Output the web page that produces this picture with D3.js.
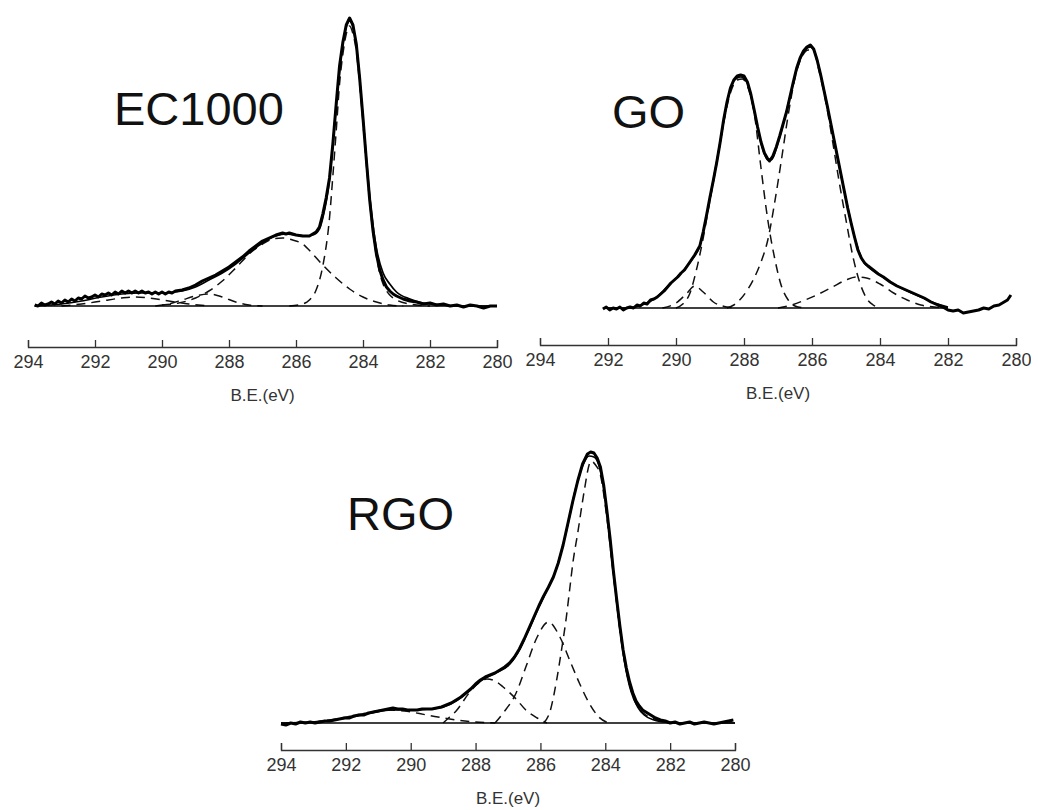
<!DOCTYPE html>
<html>
<head>
<meta charset="utf-8">
<script src="https://cdn.jsdelivr.net/npm/d3@7"></script>
<style>
  body { margin: 0; background: #fff; }
  svg { display: block; }
  .tick text { font-family: "Liberation Sans", Arial, sans-serif; }
</style>
</head>
<body>
<div id="chart"></div>
<script>
// binding energy ticks (eV), shared by all three panels
const ticks = [294, 292, 290, 288, 286, 284, 282, 280];

// ---- EC1000 : [B.E., intensity a.u.] ----
const ec1000Data = [[293.8,1],[293.7,0],[293.6,3],[293.5,1],[293.4,2],[293.3,4],[293.2,2],[293.1,5],[293.0,3],[292.9,6],[292.8,4],[292.7,7],[292.6,5],[292.5,8],[292.4,7],[292.3,10],[292.2,8],[292.1,9],[292.0,11],[291.9,9],[291.8,12],[291.7,11],[291.6,13],[291.5,11],[291.4,14],[291.3,12],[291.2,15],[291.1,13],[291.0,15],[290.9,13],[290.8,15],[290.7,13],[290.6,15],[290.5,13],[290.4,14],[290.3,12],[290.2,14],[290.1,12],[290.0,14],[289.9,12],[289.8,14],[289.7,13],[289.6,15],[289.4,16],[289.2,18],[289.0,21],[288.8,25],[288.6,28],[288.4,31],[288.2,35],[288.0,39],[287.8,44],[287.6,49],[287.4,55],[287.2,60],[287.0,65],[286.8,68],[286.6,71],[286.4,73],[286.3,72],[286.2,73],[286.0,71],[285.8,70],[285.6,70],[285.5,72],[285.4,74],[285.3,79],[285.2,92],[285.1,108],[285.0,128],[284.9,162],[284.8,202],[284.7,240],[284.6,264],[284.5,281],[284.4,288],[284.3,281],[284.2,262],[284.1,228],[284.0,188],[283.9,146],[283.8,106],[283.7,75],[283.6,52],[283.5,36],[283.4,26],[283.3,19],[283.2,15],[283.1,12],[283.0,10],[282.8,7],[282.6,5],[282.4,4],[282.2,2],[282.0,3],[281.8,1],[281.6,2],[281.4,0],[281.2,1],[281.0,-1],[280.8,1],[280.6,0],[280.4,-2],[280.2,0],[280.0,0]];
const ec1000Fit = [[293.8,0],[293.0,2],[292.4,5],[291.8,9],[291.2,12],[290.6,13],[290.0,13],[289.4,15],[289.0,19],[288.6,26],[288.2,33],[287.8,42],[287.4,53],[287.0,63],[286.6,70],[286.3,72],[286.0,71],[285.7,70],[285.5,71],[285.3,77],[285.2,88],[285.0,126],[284.8,200],[284.6,262],[284.4,285],[284.2,260],[284.0,188],[283.8,110],[283.6,58],[283.4,33],[283.2,22],[283.0,14],[282.6,7],[282.2,3],[281.6,1],[281.0,0],[280.0,0]];
const ec1000Peaks = [
  [[286.2,0],[285.8,2],[285.6,6],[285.4,16],[285.2,40],[285.0,88],[284.9,130],[284.8,175],[284.7,222],[284.6,252],[284.5,272],[284.4,280],[284.3,272],[284.2,255],[284.1,222],[284.0,183],[283.9,142],[283.8,104],[283.7,73],[283.6,50],[283.5,33],[283.4,22],[283.2,11],[283.0,6],[282.6,2],[282.0,0]],
  [[290.0,1],[289.5,3],[289.0,8],[288.6,15],[288.2,25],[287.8,38],[287.4,52],[287.0,62],[286.7,67],[286.4,68],[286.1,66],[285.8,62],[285.5,52],[285.2,41],[284.8,28],[284.4,17],[284.0,9],[283.6,4],[283.2,1],[282.8,0]],
  [[293.0,0],[292.4,2],[291.8,5],[291.2,8],[290.8,9],[290.4,8],[289.8,5],[289.2,2],[288.6,0]],
  [[290.2,0],[289.8,2],[289.4,6],[289.0,10],[288.6,12],[288.2,9],[287.8,4],[287.4,1],[287.0,0]]
];
const ec1000Base = [[293.8,0],[280.0,0]];

// ---- GO ----
const goData = [[292.15,-1],[292.05,1],[291.95,-2],[291.85,0],[291.75,-1],[291.65,1],[291.55,-2],[291.45,0],[291.35,1],[291.25,0],[291.15,3],[291.05,2],[290.95,5],[290.85,4],[290.75,8],[290.65,9],[290.55,11],[290.45,14],[290.35,17],[290.25,21],[290.15,25],[290.05,28],[289.95,31],[289.85,35],[289.75,38],[289.65,43],[289.55,48],[289.45,53],[289.35,59],[289.3,62],[289.2,76],[289.1,93],[289.0,111],[288.9,128],[288.8,146],[288.7,166],[288.6,188],[288.5,206],[288.4,220],[288.3,228],[288.2,232],[288.1,233],[288.0,232],[287.9,226],[287.8,214],[287.7,198],[287.6,181],[287.5,166],[287.4,155],[287.3,149],[287.25,147],[287.15,152],[287.05,161],[286.95,172],[286.85,184],[286.75,196],[286.65,211],[286.55,226],[286.45,240],[286.35,250],[286.25,257],[286.15,261],[286.05,263],[285.95,259],[285.85,248],[285.75,234],[285.65,218],[285.55,202],[285.45,185],[285.35,168],[285.25,151],[285.15,134],[285.05,117],[284.95,100],[284.85,85],[284.75,71],[284.65,58],[284.55,50],[284.45,45],[284.35,42],[284.2,38],[284.05,34],[283.9,31],[283.7,26],[283.5,22],[283.3,19],[283.1,16],[282.9,13],[282.7,10],[282.5,6],[282.3,3],[282.15,1],[282.0,-2],[281.85,-3],[281.7,-2],[281.55,-5],[281.4,-4],[281.25,-3],[281.1,-2],[280.95,0],[280.8,-1],[280.65,2],[280.5,3],[280.35,6],[280.25,8],[280.15,13]];
const goFit = [[292.1,0],[291.4,0],[291.0,3],[290.6,10],[290.2,23],[289.8,37],[289.5,50],[289.3,62],[289.1,92],[288.9,128],[288.7,166],[288.5,205],[288.3,227],[288.1,231],[287.9,225],[287.7,197],[287.5,165],[287.3,148],[287.2,148],[287.0,165],[286.8,190],[286.6,218],[286.4,244],[286.2,258],[286.05,261],[285.9,254],[285.7,226],[285.5,193],[285.3,159],[285.1,125],[284.9,93],[284.7,65],[284.5,47],[284.3,40],[284.0,33],[283.6,24],[283.2,17],[282.8,11],[282.4,5],[282.0,1]];
const goPeaks = [
  [[290.0,0],[289.8,4],[289.6,14],[289.4,38],[289.2,70],[289.0,108],[288.8,145],[288.6,185],[288.4,215],[288.2,228],[288.05,229],[287.9,222],[287.7,195],[287.5,140],[287.3,88],[287.1,50],[286.9,22],[286.7,8],[286.5,2],[286.2,0]],
  [[288.5,0],[288.3,3],[288.1,9],[287.9,18],[287.7,30],[287.5,46],[287.3,68],[287.1,105],[286.9,148],[286.7,193],[286.5,230],[286.3,251],[286.1,258],[285.95,257],[285.8,238],[285.6,207],[285.4,168],[285.2,126],[285.0,88],[284.8,52],[284.6,26],[284.4,10],[284.2,3],[284.0,0]],
  [[290.4,0],[290.0,5],[289.7,14],[289.45,22],[289.2,16],[288.9,6],[288.5,1],[288.2,0]],
  [[287.0,0],[286.6,3],[286.2,8],[285.8,14],[285.4,21],[285.0,28],[284.7,31],[284.4,30],[284.0,24],[283.6,15],[283.2,8],[282.8,3],[282.4,1],[282.0,0]]
];
const goBase = [[292.15,0],[282.0,0]];

// ---- RGO ----
const rgoData = [[294.0,-1],[293.85,-2],[293.7,0],[293.55,-1],[293.4,1],[293.25,0],[293.1,1],[292.95,0],[292.8,1],[292.65,2],[292.5,2],[292.35,3],[292.2,4],[292.05,5],[291.9,5],[291.75,7],[291.6,8],[291.45,8],[291.3,10],[291.15,11],[291.0,12],[290.85,13],[290.7,14],[290.55,15],[290.4,14],[290.25,14],[290.1,13],[289.95,13],[289.8,13],[289.65,14],[289.5,14],[289.35,14],[289.2,15],[289.05,16],[288.9,18],[288.75,20],[288.6,23],[288.45,26],[288.3,30],[288.15,34],[288.0,39],[287.85,43],[287.7,46],[287.55,48],[287.4,50],[287.25,53],[287.1,56],[286.95,60],[286.8,66],[286.65,74],[286.5,84],[286.35,95],[286.2,106],[286.05,117],[285.9,127],[285.75,136],[285.6,146],[285.45,160],[285.3,178],[285.15,200],[285.0,222],[284.85,242],[284.7,259],[284.55,269],[284.45,271],[284.35,270],[284.25,265],[284.15,256],[284.05,238],[283.95,212],[283.85,184],[283.75,152],[283.65,124],[283.55,97],[283.45,73],[283.35,55],[283.25,41],[283.15,30],[283.05,22],[282.95,17],[282.85,13],[282.75,11],[282.6,8],[282.45,5],[282.3,3],[282.15,2],[282.0,0],[281.85,1],[281.7,-1],[281.55,0],[281.4,1],[281.25,-1],[281.1,0],[280.95,1],[280.8,0],[280.65,-1],[280.5,0],[280.35,1],[280.2,2],[280.05,3]];
const rgoFit = [[294.0,0],[293.0,1],[292.4,3],[291.8,6],[291.2,10],[290.6,13],[290.0,13],[289.4,14],[289.0,16],[288.6,22],[288.2,32],[287.8,43],[287.4,50],[287.0,57],[286.7,70],[286.4,90],[286.1,112],[285.8,133],[285.5,155],[285.2,192],[284.9,236],[284.7,257],[284.5,267],[284.35,266],[284.2,258],[284.0,225],[283.8,165],[283.6,108],[283.4,60],[283.2,31],[283.0,16],[282.8,8],[282.5,3],[282.2,1],[281.8,0],[280.0,0]];
const rgoPeaks = [
  [[285.9,0],[285.7,12],[285.5,43],[285.35,73],[285.2,106],[285.1,133],[285.0,160],[284.85,190],[284.65,232],[284.5,258],[284.45,262],[284.3,258],[284.15,248],[283.95,205],[283.75,148],[283.45,70],[283.15,27],[282.75,8],[282.2,2],[281.8,0]],
  [[287.4,0],[287.15,10],[286.75,30],[286.45,56],[286.1,86],[285.75,101],[285.4,86],[285.1,63],[284.8,40],[284.5,20],[284.2,6],[283.9,0]],
  [[289.0,0],[288.8,6],[288.6,12],[288.2,30],[287.9,40],[287.65,44],[287.4,42],[287.15,36],[286.75,24],[286.45,13],[286.1,5],[285.8,0]],
  [[293.5,0],[292.5,3],[291.5,9],[290.8,13],[290.2,12],[289.5,8],[288.8,4],[288.0,1],[287.4,0]]
];
const rgoBase = [[294.0,0],[280.0,0]];

const labels = ["EC1000", "GO", "RGO"];

const width = 1038, height = 810;
const svg = d3.select("#chart").append("svg")
  .attr("width", width).attr("height", height);

const defs = svg.append("defs");

const panels = [
  { name: labels[0], data: ec1000Data, fit: ec1000Fit, peaks: ec1000Peaks, base: ec1000Base,
    x0: 28, x1: 497, y0: 306, axisY: 347, titleX: 114, titleY: 125, clip: [0, 518] },
  { name: labels[1], data: goData, fit: goFit, peaks: goPeaks, base: goBase,
    x0: 540, x1: 1016, y0: 308, axisY: 345, titleX: 612, titleY: 128, clip: [518, 1031] },
  { name: labels[2], data: rgoData, fit: rgoFit, peaks: rgoPeaks, base: rgoBase,
    x0: 281, x1: 735, y0: 723, axisY: 750, titleX: 347, titleY: 530, clip: [240, 800] }
];

panels.forEach(function(p, i) {
  defs.append("clipPath").attr("id", "clip" + i)
    .append("rect").attr("x", p.clip[0]).attr("y", 0)
    .attr("width", p.clip[1] - p.clip[0]).attr("height", height);

  const g = svg.append("g").attr("clip-path", "url(#clip" + i + ")");

  const x = d3.scaleLinear().domain([294, 280]).range([p.x0, p.x1]);
  const y = d3.scaleLinear().domain([0, 300]).range([p.y0, p.y0 - 300]);

  const line = d3.line()
    .x(function(d) { return x(d[0]); })
    .y(function(d) { return y(d[1]); });

  // fitted components (dashed)
  p.peaks.forEach(function(pk) {
    g.append("path")
      .datum(pk)
      .attr("d", line.curve(d3.curveMonotoneX))
      .attr("fill", "none")
      .attr("stroke", "#111")
      .attr("stroke-width", 1.5)
      .attr("stroke-dasharray", "9,6");
  });

  // background line
  g.append("path")
    .datum(p.base)
    .attr("d", line.curve(d3.curveLinear))
    .attr("fill", "none")
    .attr("stroke", "#000")
    .attr("stroke-width", 1.7);

  // fit envelope
  g.append("path")
    .datum(p.fit)
    .attr("d", line.curve(d3.curveMonotoneX))
    .attr("fill", "none")
    .attr("stroke", "#000")
    .attr("stroke-width", 1.7);

  // measured spectrum
  g.append("path")
    .datum(p.data)
    .attr("d", line.curve(d3.curveLinear))
    .attr("fill", "none")
    .attr("stroke", "#000")
    .attr("stroke-width", 3)
    .attr("stroke-linejoin", "round");

  // x axis, ticks pointing up
  const ax = g.append("g")
    .attr("transform", "translate(0," + p.axisY + ")")
    .call(d3.axisBottom(x).tickValues(ticks).tickSize(-7).tickPadding(8).tickFormat(d3.format("d")));
  ax.selectAll("path, line").attr("stroke", "#333").attr("stroke-width", 1.3);
  ax.selectAll("text").attr("fill", "#333").style("font-size", "18px");

  g.append("text")
    .attr("x", (p.x0 + p.x1) / 2)
    .attr("y", p.axisY + 54)
    .attr("text-anchor", "middle")
    .attr("fill", "#333")
    .style("font-family", "Liberation Sans, Arial, sans-serif")
    .style("font-size", "17px")
    .text("B.E.(eV)");

  g.append("text")
    .attr("x", p.titleX)
    .attr("y", p.titleY)
    .attr("fill", "#111")
    .style("font-family", "Liberation Sans, Arial, sans-serif")
    .style("font-size", "47px")
    .text(p.name);
});
</script>
</body>
</html>
